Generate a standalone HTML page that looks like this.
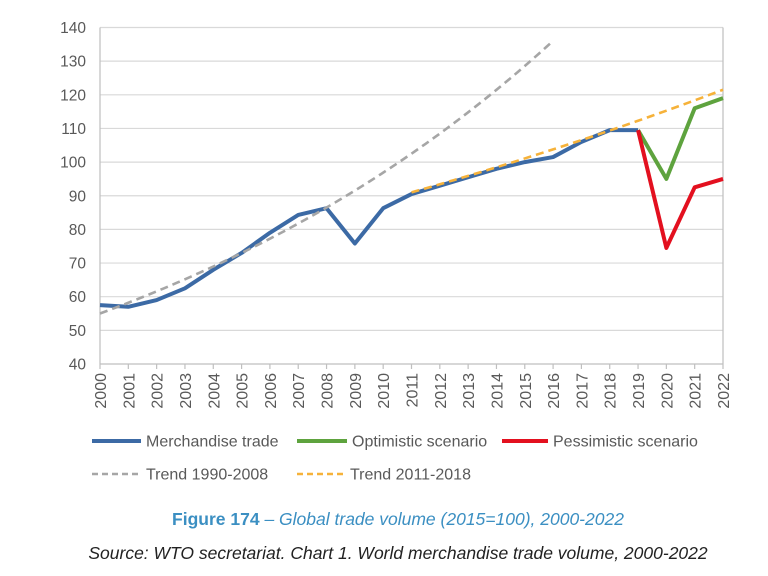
<!DOCTYPE html>
<html><head><meta charset="utf-8"><style>
body{margin:0;background:#fff;width:768px;height:571px;overflow:hidden;font-family:"Liberation Sans",sans-serif}
</style></head><body>
<svg width="768" height="571" xmlns="http://www.w3.org/2000/svg" font-family="Liberation Sans, sans-serif">
<g id="grid" stroke="#d9d9d9" stroke-width="1.2"></g>
<g id="lbl" fill="#595959" font-size="15.5"></g>
<g id="xl" fill="#595959" font-size="16"></g>
<line x1="100" y1="27.5" x2="100" y2="364" stroke="#bfbfbf" stroke-width="1.2"/>
<line x1="723" y1="27.5" x2="723" y2="364" stroke="#bfbfbf" stroke-width="1.2"/>
<line x1="100" y1="364" x2="723" y2="364" stroke="#bfbfbf" stroke-width="1.2"/>
<g id="series" fill="none" stroke-linejoin="round"></g>
<g font-size="16" fill="#595959">
<line x1="92" y1="441" x2="141" y2="441" stroke="#3c6aa5" stroke-width="4"/>
<text x="146" y="446.5">Merchandise trade</text>
<line x1="297" y1="441" x2="347" y2="441" stroke="#5ea33e" stroke-width="4"/>
<text x="352" y="446.5">Optimistic scenario</text>
<line x1="502" y1="441" x2="548" y2="441" stroke="#e3101f" stroke-width="4"/>
<text x="553" y="446.5">Pessimistic scenario</text>
<line x1="92" y1="474" x2="141" y2="474" stroke="#a6a6a6" stroke-width="2.5" stroke-dasharray="6,4"/>
<text x="146" y="479.5">Trend 1990-2008</text>
<line x1="297" y1="474" x2="345" y2="474" stroke="#f6b23a" stroke-width="2.5" stroke-dasharray="6,4"/>
<text x="350" y="479.5">Trend 2011-2018</text>
</g>
<text x="398" y="525" text-anchor="middle" font-size="17.5" fill="#3b8fc2"><tspan font-weight="bold">Figure 174</tspan><tspan font-style="italic"> – Global trade volume (2015=100), 2000-2022</tspan></text>
<text x="398" y="559" text-anchor="middle" font-size="17.5" font-style="italic" fill="#222">Source: WTO secretariat. Chart 1. World merchandise trade volume, 2000-2022</text>
</svg>
<script>
const ns="http://www.w3.org/2000/svg";
const X=y=>100+(y-2000)*623/22, Y=v=>364-(v-40)*3.365;
const g=document.getElementById('grid'),l=document.getElementById('lbl'),xl=document.getElementById('xl'),s=document.getElementById('series');
function el(p,t,a,txt){const e=document.createElementNS(ns,t);for(const k in a)e.setAttribute(k,a[k]);if(txt)e.textContent=txt;p.appendChild(e);return e;}
for(let v=40;v<=140;v+=10){if(v>40)el(g,'line',{x1:100,x2:723,y1:Y(v),y2:Y(v)});el(l,'text',{x:86,y:Y(v)+5.5,'text-anchor':'end'},v);}
for(let y=2000;y<=2022;y++){const x=X(y);el(g,'line',{x1:x,x2:x,y1:364,y2:369,stroke:'#bfbfbf'});el(xl,'text',{transform:`translate(${x+6},373) rotate(-90)`,'text-anchor':'end'},y);}
function pl(pts,c,w,d){el(s,'polyline',{points:pts.map(p=>X(p[0])+','+Y(p[1])).join(' '),stroke:c,'stroke-width':w,'stroke-dasharray':d||'none'});}
const m=[57.5,57,59,62.5,68,73,79,84.3,86.3,75.8,86.3,90.5,93,95.5,98,100,101.5,106,109.5,109.5].map((v,i)=>[2000+i,v]);
let t1=[];for(let i=0;i<=16.05;i+=0.25)t1.push([2000+i,55*Math.pow(86.5/55,i/8)]);
let t2=[];for(let i=0;i<=11;i+=0.5)t2.push([2011+i,91*Math.pow(121.5/91,i/11)]);
pl(m,'#3c6aa5',4);
pl([[2019,109.5],[2020,95],[2021,116],[2022,119]],'#5ea33e',4);
pl([[2019,109.5],[2020,74.5],[2021,92.5],[2022,95]],'#e3101f',4);
pl(t1,'#a6a6a6',2.6,'8,5');
pl(t2,'#f6b23a',2.6,'8,5');
</script>
</body></html>
